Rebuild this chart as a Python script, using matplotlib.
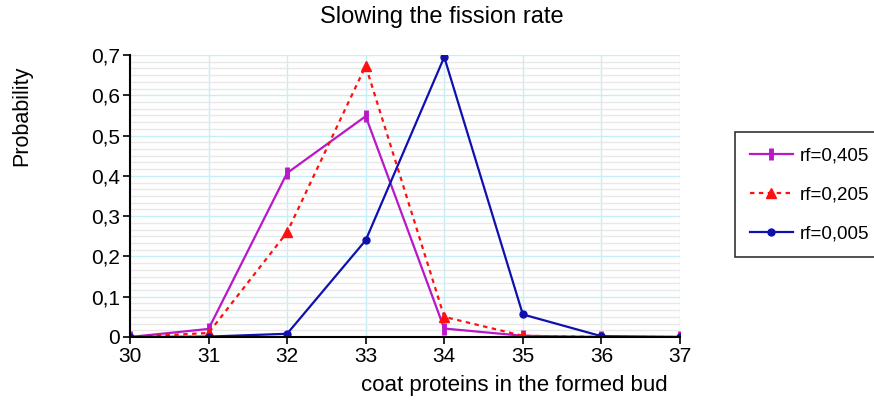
import numpy as np
import matplotlib.pyplot as plt
from matplotlib.ticker import MultipleLocator, FixedLocator, FuncFormatter

plt.rcParams['font.family'] = ['Liberation Sans', 'DejaVu Sans']

# ──────────────────────────────────────────────
# DATA
# ──────────────────────────────────────────────
proteins = [30, 31, 32, 33, 34, 35, 36, 37]

rf_405 = [0.0, 0.02, 0.407, 0.548, 0.021, 0.003, 0.0, 0.0]
rf_205 = [0.0, 0.01, 0.26, 0.673, 0.05, 0.003, 0.0, 0.0]
rf_005 = [0.0, 0.001, 0.008, 0.24, 0.695, 0.056, 0.002, 0.0]

labels = ['rf=0,405', 'rf=0,205', 'rf=0,005']

# ──────────────────────────────────────────────
# FIGURE
# ──────────────────────────────────────────────
fig = plt.figure(figsize=(8.74, 4.0), dpi=100)
ax = fig.add_axes([0.1487, 0.1575, 0.6293, 0.705])

ax.plot(proteins, rf_405, color='#b818c8', linewidth=1.6,
        marker='|', markersize=9, markeredgewidth=3.5, label=labels[0])
ax.plot(proteins, rf_205, color='#ff1010', linewidth=1.6, linestyle=(0, (2, 2)),
        marker='^', markersize=7, label=labels[1])
ax.plot(proteins, rf_005, color='#1010b0', linewidth=1.6,
        marker='o', markersize=5, label=labels[2])

ax.set_xlim(30, 37)
ax.set_ylim(0, 0.7)
ax.xaxis.set_major_locator(MultipleLocator(1))
ax.yaxis.set_major_locator(MultipleLocator(0.1))
# light minor lines, 6 steps per major interval
minor_y = [i / 60 for i in range(43) if i % 6 != 0]
ax.yaxis.set_minor_locator(FixedLocator(minor_y))
ax.yaxis.set_major_formatter(FuncFormatter(
    lambda v, p: '0' if abs(v) < 1e-9 else f'{v:.1f}'.replace('.', ',')))

ax.grid(True, which='major', color='#c4eef8', linewidth=1.0, zorder=0)
ax.grid(True, which='minor', axis='y', color='#e8e8e8', linewidth=1.0, zorder=0)
ax.set_axisbelow(True)

for side in ['top', 'right']:
    ax.spines[side].set_visible(False)
ax.spines['left'].set_linewidth(1.5)
ax.spines['bottom'].set_linewidth(1.5)
ax.tick_params(axis='both', which='major', direction='out', length=5,
               width=1.2, labelsize=15, pad=2)
ax.tick_params(axis='y', which='minor', length=0)

fig.text(0.505, 0.957, 'Slowing the fission rate', ha='center', va='center',
         fontsize=17)
fig.text(0.025, 0.71, 'Probability', rotation=90, ha='center', va='center',
         fontsize=15.5)
fig.text(0.589, 0.0375, 'coat proteins in the formed bud', ha='center',
         va='center', fontsize=16)

leg = fig.legend(loc='upper left', bbox_to_anchor=(0.8405, 0.67),
                 fontsize=13.5, frameon=True, fancybox=False,
                 edgecolor='black', handlelength=2.3, borderpad=0.8,
                 labelspacing=1.17, handletextpad=0.4, borderaxespad=0)
leg.get_frame().set_linewidth(1.2)

fig.savefig('out.png', dpi=100)
